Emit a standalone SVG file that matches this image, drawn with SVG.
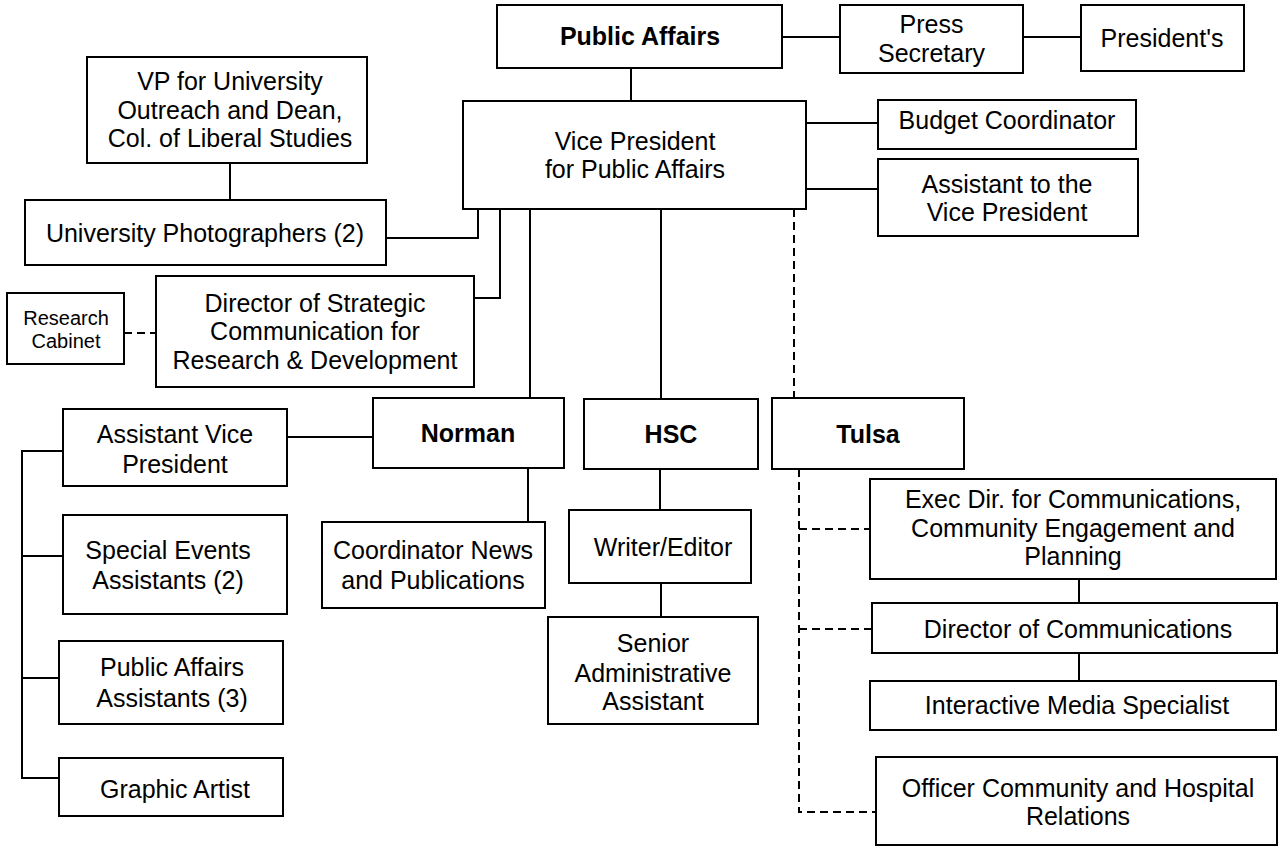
<svg xmlns="http://www.w3.org/2000/svg" width="1278" height="846" viewBox="0 0 1278 846">
<style>
.box{fill:#fff;stroke:#000;stroke-width:2}
.t{font-family:"Liberation Sans",Arial,sans-serif;font-size:25px;fill:#000;text-anchor:middle}
.b{font-weight:bold}
.s{font-size:20px}
.c{stroke:#000;stroke-width:2;fill:none}
.d{stroke-dasharray:8,5}
</style>
<rect width="1278" height="846" fill="#fff"/>
<g id="connectors">
<path class="c" d="M782,37H840"/>
<path class="c" d="M1023,37H1081"/>
<path class="c" d="M631,68V101"/>
<path class="c" d="M806,123H878"/>
<path class="c" d="M806,189H878"/>
<path class="c" d="M230,163V200"/>
<path class="c" d="M386,238H478V209"/>
<path class="c" d="M474,298H500V209"/>
<path class="c" d="M530,209V398"/>
<path class="c" d="M661,209V399"/>
<path class="c d" d="M794,209V398"/>
<path class="c d" d="M124,333H156"/>
<path class="c" d="M287,437H373"/>
<path class="c" d="M63,451H22V778H59"/>
<path class="c" d="M22,556H63"/>
<path class="c" d="M22,678H59"/>
<path class="c" d="M528,468V522"/>
<path class="c" d="M660,469V510"/>
<path class="c" d="M661,583V617"/>
<path class="c d" d="M799,469V812H876"/>
<path class="c d" d="M799,529H870"/>
<path class="c d" d="M799,629H872"/>
<path class="c" d="M1079,579V603"/>
<path class="c" d="M1079,653V681"/>
</g>
<g id="n_public_affairs"><rect class="box" x="497" y="5" width="285" height="63"/><text class="t b" x="640" y="45">Public Affairs</text></g>
<g id="n_press"><rect class="box" x="840" y="5" width="183" height="68"/><text class="t" x="931.5"><tspan x="931.5" y="33">Press</tspan><tspan x="931.5" y="62">Secretary</tspan></text></g>
<g id="n_presidents"><rect class="box" x="1081" y="5" width="163" height="66"/><text class="t" x="1162" y="47">President's</text></g>
<g id="n_vp"><rect class="box" x="463" y="101" width="343" height="108"/><text class="t"><tspan x="635" y="150">Vice President</tspan><tspan x="635" y="178">for Public Affairs</tspan></text></g>
<g id="n_budget"><rect class="box" x="878" y="100" width="258" height="49"/><text class="t" x="1007" y="129">Budget Coordinator</text></g>
<g id="n_assistant_vp"><rect class="box" x="878" y="159" width="260" height="77"/><text class="t"><tspan x="1007" y="193">Assistant to the</tspan><tspan x="1007" y="221">Vice President</tspan></text></g>
<g id="n_vp_outreach"><rect class="box" x="87" y="57" width="280" height="106"/><text class="t"><tspan x="230" y="90">VP for University</tspan><tspan x="230" y="119">Outreach and Dean,</tspan><tspan x="230" y="147">Col. of Liberal Studies</tspan></text></g>
<g id="n_photographers"><rect class="box" x="25" y="200" width="361" height="65"/><text class="t" x="205" y="242">University Photographers (2)</text></g>
<g id="n_director_strategic"><rect class="box" x="156" y="276" width="318" height="111"/><text class="t"><tspan x="315" y="312">Director of Strategic</tspan><tspan x="315" y="340">Communication for</tspan><tspan x="315" y="369">Research &amp; Development</tspan></text></g>
<g id="n_research_cabinet"><rect class="box" x="7" y="293" width="117" height="71"/><text class="t s"><tspan x="66" y="325">Research</tspan><tspan x="66" y="348">Cabinet</tspan></text></g>
<g id="n_norman"><rect class="box" x="373" y="398" width="191" height="70"/><text class="t b" x="468" y="442">Norman</text></g>
<g id="n_hsc"><rect class="box" x="584" y="399" width="174" height="70"/><text class="t b" x="671" y="443">HSC</text></g>
<g id="n_tulsa"><rect class="box" x="772" y="398" width="192" height="71"/><text class="t b" x="868" y="443">Tulsa</text></g>
<g id="n_avp"><rect class="box" x="63" y="409" width="224" height="77"/><text class="t"><tspan x="175" y="442.5">Assistant Vice</tspan><tspan x="175" y="473">President</tspan></text></g>
<g id="n_special_events"><rect class="box" x="63" y="515" width="224" height="99"/><text class="t"><tspan x="168" y="559">Special Events</tspan><tspan x="168" y="589">Assistants (2)</tspan></text></g>
<g id="n_pa_assistants"><rect class="box" x="59" y="641" width="224" height="83"/><text class="t"><tspan x="172" y="676">Public Affairs</tspan><tspan x="172" y="707">Assistants (3)</tspan></text></g>
<g id="n_graphic_artist"><rect class="box" x="59" y="758" width="224" height="58"/><text class="t" x="175" y="798">Graphic Artist</text></g>
<g id="n_coordinator"><rect class="box" x="322" y="522" width="223" height="86"/><text class="t"><tspan x="433" y="559">Coordinator News</tspan><tspan x="433" y="589">and Publications</tspan></text></g>
<g id="n_writer"><rect class="box" x="569" y="510" width="182" height="73"/><text class="t" x="663" y="556">Writer/Editor</text></g>
<g id="n_senior"><rect class="box" x="548" y="617" width="210" height="107"/><text class="t"><tspan x="653" y="652">Senior</tspan><tspan x="653" y="682">Administrative</tspan><tspan x="653" y="710">Assistant</tspan></text></g>
<g id="n_exec_dir"><rect class="box" x="870" y="479" width="406" height="100"/><text class="t"><tspan x="1073" y="508">Exec Dir. for Communications,</tspan><tspan x="1073" y="537">Community Engagement and</tspan><tspan x="1073" y="565">Planning</tspan></text></g>
<g id="n_dir_comm"><rect class="box" x="872" y="603" width="405" height="50"/><text class="t" x="1078" y="638">Director of Communications</text></g>
<g id="n_interactive"><rect class="box" x="870" y="681" width="406" height="49"/><text class="t" x="1077" y="714">Interactive Media Specialist</text></g>
<g id="n_officer"><rect class="box" x="876" y="757" width="401" height="88"/><text class="t"><tspan x="1078" y="797">Officer Community and Hospital</tspan><tspan x="1078" y="825">Relations</tspan></text></g>
</svg>
